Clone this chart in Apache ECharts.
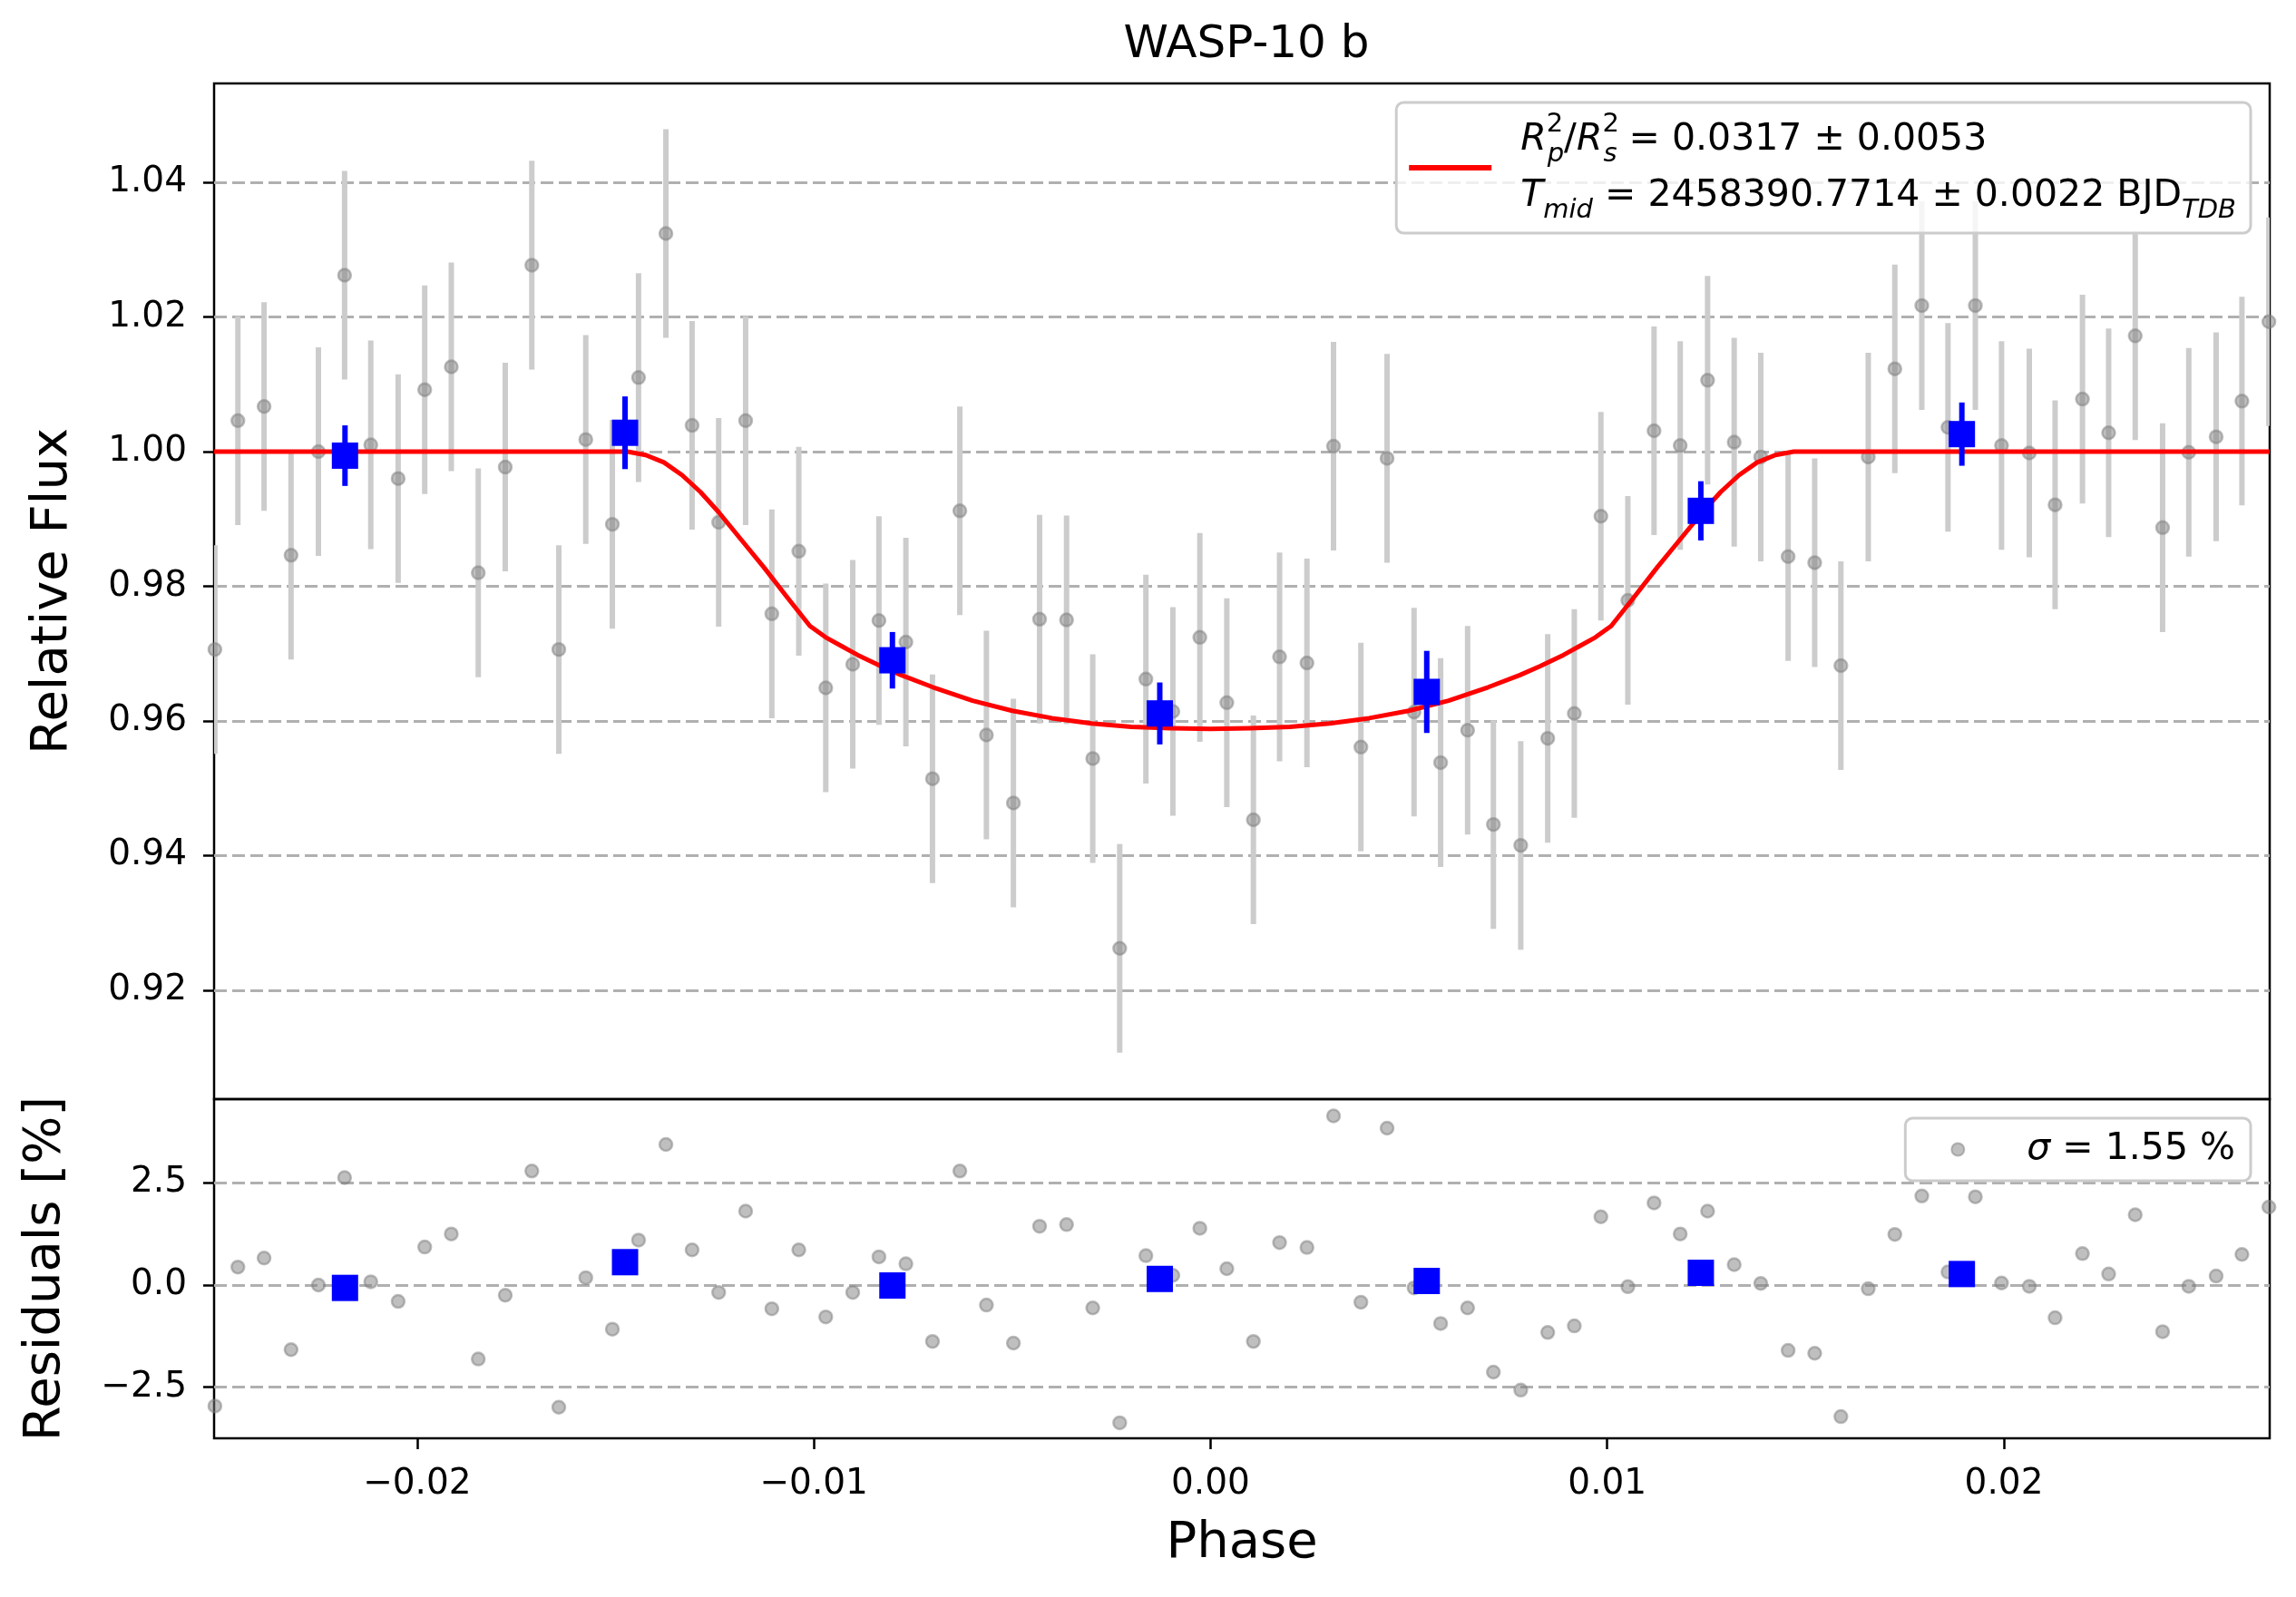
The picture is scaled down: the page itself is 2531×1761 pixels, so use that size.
<!DOCTYPE html>
<html>
<head>
<meta charset="utf-8">
<title>WASP-10 b</title>
<script src="https://cdn.jsdelivr.net/npm/echarts@6/dist/echarts.min.js"></script>
<style>
    html, body { margin: 0; padding: 0; background: #fff; }
    #chart { width: 2531px; height: 1761px; }
</style>
</head>
<body>
<div id="chart"></div>
<script>
// 读取自图像的数据（相位、归一化流量、残差 %）
const phase = [
    -0.02510, -0.02452, -0.02386, -0.02318, -0.02249, -0.02183, -0.02117, -0.02048, -0.01981, -0.01914,
    -0.01846, -0.01778, -0.01711, -0.01643, -0.01575, -0.01508, -0.01442, -0.01373, -0.01307, -0.01240,
    -0.01172, -0.01106, -0.01038, -0.00970, -0.00902, -0.00836, -0.00768, -0.00701, -0.00632, -0.00565,
    -0.00497, -0.00431, -0.00363, -0.00297, -0.00229, -0.00163, -0.00095, -0.00027, 0.00041, 0.00108,
    0.00174, 0.00243, 0.00310, 0.00379, 0.00445, 0.00513, 0.00580, 0.00648, 0.00713, 0.00782,
    0.00850, 0.00917, 0.00984, 0.01052, 0.01118, 0.01184, 0.01253, 0.01320, 0.01387, 0.01456,
    0.01523, 0.01589, 0.01658, 0.01725, 0.01793, 0.01859, 0.01928, 0.01994, 0.02064, 0.02129,
    0.02198, 0.02264, 0.02331, 0.02400, 0.02466, 0.02535, 0.02600, 0.02668
];
const flux = [
    0.9706, 1.0046, 1.0067, 0.9846, 1.0000, 1.0262, 1.0010, 0.9960, 1.0092, 1.0126,
    0.9820, 0.9977, 1.0277, 0.9706, 1.0018, 0.9892, 1.0110, 1.0324, 1.0039, 0.9895,
    1.0046, 0.9759, 0.9852, 0.9649, 0.9684, 0.9749, 0.9717, 0.9514, 0.9912, 0.9579,
    0.9478, 0.9751, 0.9750, 0.9544, 0.9262, 0.9662, 0.9614, 0.9724, 0.9627, 0.9453,
    0.9695, 0.9686, 1.0008, 0.9561, 0.9990, 0.9613, 0.9538, 0.9586, 0.9446, 0.9415,
    0.9574, 0.9611, 0.9904, 0.9779, 1.0031, 1.0009, 1.0106, 1.0014, 0.9992, 0.9844,
    0.9835, 0.9682, 0.9992, 1.0123, 1.0217, 1.0036, 1.0217, 1.0009, 0.9998, 0.9921,
    1.0078, 1.0028, 1.0172, 0.9887, 0.9999, 1.0022, 1.0075, 1.0193
];
const fluxErr = 0.0155;
const resid = [
    -2.96, 0.44, 0.66, -1.58, 0.00, 2.63, 0.08, -0.40, 0.93, 1.25,
    -1.81, -0.25, 2.79, -2.99, 0.18, -1.08, 1.10, 3.44, 0.86, -0.18,
    1.81, -0.58, 0.86, -0.78, -0.18, 0.69, 0.52, -1.38, 2.79, -0.49,
    -1.42, 1.44, 1.48, -0.56, -3.37, 0.72, 0.24, 1.39, 0.40, -1.38,
    1.04, 0.92, 4.14, -0.42, 3.84, -0.07, -0.94, -0.56, -2.13, -2.57,
    -1.16, -1.00, 1.67, -0.04, 2.01, 1.25, 1.81, 0.50, 0.04, -1.60,
    -1.67, -3.22, -0.09, 1.24, 2.18, 0.32, 2.16, 0.05, -0.03, -0.80,
    0.77, 0.27, 1.72, -1.14, -0.03, 0.22, 0.75, 1.91
];

// 分箱数据（蓝色方块）
const binPhase = [-0.02182, -0.01476, -0.00802, -0.00128, 0.00545, 0.01236, 0.01894];
const binFlux = [0.9994, 1.0028, 0.9690, 0.9611, 0.9643, 0.9912, 1.0026];
const binErr = [0.0045, 0.0054, 0.0042, 0.0046, 0.0061, 0.0044, 0.0047];
const binResid = [-0.07, 0.56, -0.01, 0.15, 0.10, 0.30, 0.27];

// 凌星模型曲线
const modelPhase = [
    -0.02512, -0.0147, -0.01424, -0.01378, -0.01332, -0.01286, -0.0124, -0.01183, -0.01126, -0.01068,
    -0.0101, -0.0097, -0.0093, -0.0089, -0.0083, -0.0078, -0.0070, -0.0060, -0.0050, -0.0040,
    -0.0030, -0.0020, -0.0010, 0.0000, 0.0010, 0.0020, 0.0030, 0.0040, 0.0050, 0.0060,
    0.0070, 0.0078, 0.0083, 0.0089, 0.0093, 0.0097, 0.0101, 0.01068, 0.01126, 0.01183,
    0.0124, 0.01286, 0.01332, 0.01378, 0.01424, 0.0147, 0.02670
];
const modelFlux = [
    1.0000, 1.0000, 0.9995, 0.9984, 0.9965, 0.9940, 0.9910, 0.9869, 0.9828, 0.9784,
    0.9741, 0.9724, 0.9711, 0.9698, 0.9681, 0.9668, 0.9650, 0.9630, 0.9615, 0.9604,
    0.9596, 0.9591, 0.9589, 0.9588, 0.9589, 0.9591, 0.9596, 0.9604, 0.9615, 0.9630,
    0.9650, 0.9668, 0.9681, 0.9698, 0.9711, 0.9724, 0.9741, 0.9784, 0.9828, 0.9869,
    0.9910, 0.9940, 0.9965, 0.9984, 0.9995, 1.0000, 1.0000
];

// 坐标轴范围与刻度
const xMin = -0.02512, xMax = 0.02670;
const xTicks = [-0.02, -0.01, 0.00, 0.01, 0.02];
const fluxMin = 0.9038, fluxMax = 1.0547;
const fluxTicks = [0.92, 0.94, 0.96, 0.98, 1.00, 1.02, 1.04];
const residMin = -3.75, residMax = 4.55;
const residTicks = [-2.5, 0.0, 2.5];

const FONT = 'DejaVu Sans';
const minus = s => s.replace('-', '\u2212');

function errorBar(color) {
    return function (params, api) {
        const x = api.value(0);
        const p1 = api.coord([x, api.value(1)]);
        const p2 = api.coord([x, api.value(2)]);
        return {
            type: 'line',
            shape: {x1: p1[0], y1: p1[1], x2: p2[0], y2: p2[1]},
            style: {stroke: color, lineWidth: 6}
        };
    };
}

const grayDot = {
    color: 'rgba(128,128,128,0.5)',
    borderColor: 'rgba(128,128,128,0.5)',
    borderWidth: 2.5,
    opacity: 1
};
const blueBox = {color: '#0000ff', opacity: 1};

function valueAxis(gridIndex, min, max, ticks, digits, margin, extra) {
    return Object.assign({
        type: 'value',
        gridIndex: gridIndex,
        min: min,
        max: max,
        axisLine: {show: false, onZero: false},
        axisTick: {show: true, customValues: ticks, length: 12, lineStyle: {color: '#000', width: 2.5}},
        axisLabel: {
            show: true,
            customValues: ticks,
            margin: margin,
            color: '#000',
            fontFamily: FONT,
            fontSize: 39,
            formatter: v => minus(Number(v).toFixed(digits))
        },
        splitLine: {show: false}
    }, extra || {});
}

const dashed = {show: true, lineStyle: {color: '#b0b0b0', width: 3, type: [14, 6]}};

let chart = echarts.init(document.getElementById('chart'), null, {renderer: 'canvas'});
let option = {
    animation: false,
    backgroundColor: '#fff',
    title: {
        text: 'WASP-10 b',
        left: 1369,
        top: 20,
        textAlign: 'center',
        textStyle: {fontFamily: FONT, fontSize: 50, fontWeight: 'normal', color: '#000'}
    },
    grid: [
        {left: 236, right: 29, top: 92, height: 1120, show: true, borderColor: '#000', borderWidth: 2.5, backgroundColor: 'transparent'},
        {left: 236, right: 29, top: 1212, height: 374, show: true, borderColor: '#000', borderWidth: 2.5, backgroundColor: 'transparent'}
    ],
    legend: [
        {
            data: ['model'],
            right: 50,
            top: 113,
            selectedMode: false,
            icon: 'rect',
            itemWidth: 91,
            itemHeight: 6,
            padding: [10, 16, 10, 14],
            backgroundColor: 'rgba(255,255,255,0.8)',
            borderColor: '#cccccc',
            borderWidth: 3,
            borderRadius: 8,
            formatter: () =>
                '{pad| }{it|R}{sup|2}{sub|p}{n|/}{it|R}{sup|2}{sub|s}{n| = 0.0317 ± 0.0053}\n' +
                '{pad| }{it|T}{sub|mid}{n| = 2458390.7714 ± 0.0022 BJD}{sub|TDB}',
            textStyle: {
                color: '#000',
                fontFamily: FONT,
                fontSize: 41,
                rich: {
                    pad: {width: 27, fontSize: 41, lineHeight: 62, fontFamily: FONT},
                    n: {fontSize: 41, lineHeight: 62, fontFamily: FONT, color: '#000'},
                    it: {fontSize: 41, lineHeight: 62, fontFamily: FONT, fontStyle: 'italic', color: '#000'},
                    sup: {fontSize: 29, lineHeight: 30, verticalAlign: 'top', width: 1, fontFamily: FONT, color: '#000'},
                    sub: {fontSize: 29, lineHeight: 34, verticalAlign: 'bottom', fontStyle: 'italic', fontFamily: FONT, color: '#000'}
                }
            }
        },
        {
            data: ['resid'],
            right: 50,
            top: 1233,
            selectedMode: false,
            icon: 'circle',
            itemWidth: 14,
            itemHeight: 14,
            padding: [14, 17, 14, 50],
            backgroundColor: 'rgba(255,255,255,0.8)',
            borderColor: '#cccccc',
            borderWidth: 3,
            borderRadius: 8,
            formatter: () => '{pad| }{it|σ}{n| = 1.55 %}',
            textStyle: {
                color: '#000',
                fontFamily: FONT,
                fontSize: 41,
                rich: {
                    pad: {width: 64, fontSize: 41, fontFamily: FONT},
                    n: {fontSize: 41, fontFamily: FONT, color: '#000'},
                    it: {fontSize: 41, fontFamily: FONT, fontStyle: 'italic', color: '#000'}
                }
            }
        }
    ],
    xAxis: [
        valueAxis(0, xMin, xMax, xTicks, 2, 24, {
            axisTick: {show: false},
            axisLabel: {show: false}
        }),
        valueAxis(1, xMin, xMax, xTicks, 2, 31, {
            name: 'Phase',
            nameLocation: 'middle',
            nameGap: 88,
            nameTextStyle: {fontFamily: FONT, fontSize: 56, color: '#000'}
        })
    ],
    yAxis: [
        valueAxis(0, fluxMin, fluxMax, fluxTicks, 2, 30, {
            name: 'Relative Flux',
            nameLocation: 'middle',
            nameGap: 150,
            nameTextStyle: {fontFamily: FONT, fontSize: 56, color: '#000'},
            splitLine: dashed
        }),
        valueAxis(1, residMin, residMax, residTicks, 1, 30, {
            name: 'Residuals [%]',
            nameLocation: 'middle',
            nameGap: 158,
            nameTextStyle: {fontFamily: FONT, fontSize: 56, color: '#000'},
            splitLine: dashed
        })
    ],
    series: [
        {
            name: 'fluxErr',
            type: 'custom',
            xAxisIndex: 0,
            yAxisIndex: 0,
            clip: true,
            z: 1,
            renderItem: errorBar('#cccccc'),
            encode: {x: 0, y: [1, 2]},
            data: phase.map((p, i) => [p, flux[i] - fluxErr, flux[i] + fluxErr])
        },
        {
            name: 'flux',
            type: 'scatter',
            xAxisIndex: 0,
            yAxisIndex: 0,
            z: 2,
            symbol: 'circle',
            symbolSize: 14,
            itemStyle: grayDot,
            data: phase.map((p, i) => [p, flux[i]])
        },
        {
            name: 'model',
            type: 'line',
            xAxisIndex: 0,
            yAxisIndex: 0,
            z: 3,
            color: '#ff0000',
            showSymbol: false,
            symbol: 'none',
            itemStyle: {color: '#ff0000'},
            lineStyle: {color: '#ff0000', width: 5, join: 'round'},
            data: modelPhase.map((p, i) => [p, modelFlux[i]])
        },
        {
            name: 'binErr',
            type: 'custom',
            xAxisIndex: 0,
            yAxisIndex: 0,
            clip: true,
            z: 4,
            renderItem: errorBar('#0000ff'),
            encode: {x: 0, y: [1, 2]},
            data: binPhase.map((p, i) => [p, binFlux[i] - binErr[i], binFlux[i] + binErr[i]])
        },
        {
            name: 'binned',
            type: 'scatter',
            xAxisIndex: 0,
            yAxisIndex: 0,
            z: 5,
            symbol: 'rect',
            symbolSize: 29,
            itemStyle: blueBox,
            data: binPhase.map((p, i) => [p, binFlux[i]])
        },
        {
            name: 'resid',
            type: 'scatter',
            xAxisIndex: 1,
            yAxisIndex: 1,
            z: 2,
            symbol: 'circle',
            symbolSize: 14,
            itemStyle: grayDot,
            data: phase.map((p, i) => [p, resid[i]])
        },
        {
            name: 'binResid',
            type: 'scatter',
            xAxisIndex: 1,
            yAxisIndex: 1,
            z: 5,
            symbol: 'rect',
            symbolSize: 29,
            itemStyle: blueBox,
            data: binPhase.map((p, i) => [p, binResid[i]])
        }
    ]
};
chart.setOption(option);

window.addEventListener('resize', function () {
    chart.resize();
});
</script>
</body>
</html>
